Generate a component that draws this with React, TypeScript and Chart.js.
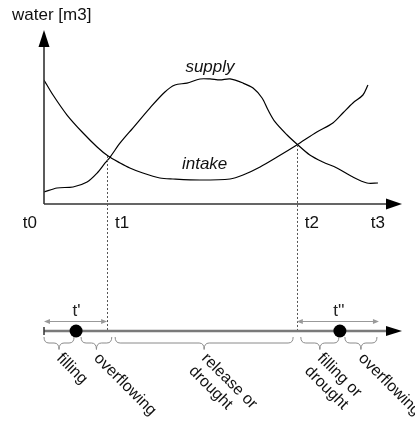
import { useEffect, useRef } from 'react';
import { Chart, registerables } from 'chart.js';

Chart.register(...registerables);

// time axis (arbitrary units, t0 = 0, t3 = 10)
const timeTickLabels = ['t0', 't1', 't2', 't3'];
const timeTickValues = [0, 1.89, 7.57, 10];

// supply curve
const supplyX = [0, 0.39, 0.87, 1.29, 1.59, 1.83, 1.98, 2.28, 2.66, 3.17, 3.62, 3.92, 4.28, 4.67, 4.97, 5.27, 5.57, 5.96, 6.26, 6.53, 6.71, 6.92, 7.28, 7.57, 7.96, 8.35, 8.77, 9.25, 9.67, 10.0];
const supplyY = [0.97, 1.29, 1.37, 1.77, 2.49, 3.3, 3.78, 4.91, 6.11, 7.72, 9.01, 9.57, 9.73, 10.06, 10.06, 9.98, 10.06, 9.73, 9.33, 8.53, 7.56, 6.6, 5.55, 4.83, 3.94, 3.38, 2.9, 2.17, 1.69, 1.69];

// intake curve
const intakeX = [0, 0.27, 0.69, 1.17, 1.59, 1.92, 2.28, 2.57, 2.96, 3.47, 3.86, 4.67, 5.57, 5.96, 6.47, 6.98, 7.57, 8.17, 8.65, 8.95, 9.25, 9.55, 9.7];
const intakeY = [9.98, 8.77, 7.16, 5.71, 4.59, 3.86, 3.3, 2.9, 2.49, 2.09, 2.01, 1.93, 2.01, 2.33, 2.98, 3.78, 4.75, 5.79, 6.52, 7.32, 8.13, 8.77, 9.57];

// crossings of supply and intake
const crossTimes = [1.89, 7.57];
const crossLevels = [3.86, 4.75];

// timeline markers
const markerTimes = [0.96, 8.86];
const periodLabels = ["t'", "t''"];
const periodStart = [0, 7.57];
const periodEnd = [1.89, 10.03];

// phases under the timeline
const phaseLabels = [['filling'], ['overflowing'], ['release or', 'drought'], ['filling or', 'drought'], ['overflowing']];
const phaseStart = [0, 1.11, 2.13, 7.69, 9.01];
const phaseEnd = [0.9, 2.03, 7.46, 8.83, 9.97];

const X_MAX = 10.72;
const Y_MAX = 14;
const FONT = '"Liberation Sans", Arial, sans-serif';

function arrowHead(ctx: CanvasRenderingContext2D, tipX: number, tipY: number, dir: 'right' | 'up' | 'left', len: number, half: number) {
  ctx.beginPath();
  if (dir === 'right') {
    ctx.moveTo(tipX, tipY);
    ctx.lineTo(tipX - len, tipY - half);
    ctx.lineTo(tipX - len, tipY + half);
  } else if (dir === 'left') {
    ctx.moveTo(tipX, tipY);
    ctx.lineTo(tipX + len, tipY - half);
    ctx.lineTo(tipX + len, tipY + half);
  } else {
    ctx.moveTo(tipX, tipY);
    ctx.lineTo(tipX - half, tipY + len);
    ctx.lineTo(tipX + half, tipY + len);
  }
  ctx.closePath();
  ctx.fill();
}

const diagramPlugin = {
  id: 'diagram',
  afterDatasetsDraw(chart: any) {
    const ctx: CanvasRenderingContext2D = chart.ctx;
    const xs = chart.scales.x;
    const ys = chart.scales.y;
    const area = chart.chartArea;
    const px = (v: number) => xs.getPixelForValue(v);
    const py = (v: number) => ys.getPixelForValue(v);
    const x0 = px(0);
    const y0 = py(0);
    ctx.save();

    // main axes
    ctx.strokeStyle = '#333';
    ctx.fillStyle = '#000';
    ctx.lineWidth = 1.6;
    ctx.beginPath();
    ctx.moveTo(x0, y0);
    ctx.lineTo(x0, area.top + 14);
    ctx.moveTo(x0, y0);
    ctx.lineTo(area.right - 14, y0);
    ctx.stroke();
    arrowHead(ctx, x0, area.top, 'up', 17, 5.5);
    arrowHead(ctx, area.right, y0, 'right', 16, 5.5);

    // axis title
    ctx.fillStyle = '#111';
    ctx.font = `17px ${FONT}`;
    ctx.textAlign = 'left';
    ctx.textBaseline = 'middle';
    ctx.fillText('water [m3]', 12, 15);

    // time tick labels
    timeTickLabels.forEach((lab, i) => {
      const x = px(timeTickValues[i]);
      if (i === 0) { ctx.textAlign = 'right'; ctx.fillText(lab, x - 7, 223); }
      else if (i === timeTickLabels.length - 1) { ctx.textAlign = 'center'; ctx.fillText(lab, x, 223); }
      else { ctx.textAlign = 'left'; ctx.fillText(lab, x + 8, 223); }
    });

    // series labels
    ctx.font = `italic 17px ${FONT}`;
    ctx.textAlign = 'center';
    ctx.fillText('supply', px(4.97), 67);
    ctx.fillText('intake', px(4.81), 164);

    const lineY = 331;

    // dotted crossing lines
    ctx.strokeStyle = '#555';
    ctx.lineWidth = 1;
    ctx.setLineDash([2, 2]);
    crossTimes.forEach((t, i) => {
      const x = Math.round(px(t)) + 0.5;
      ctx.beginPath();
      ctx.moveTo(x, py(crossLevels[i]));
      ctx.lineTo(x, lineY);
      ctx.stroke();
    });
    ctx.setLineDash([]);

    // timeline
    ctx.strokeStyle = '#7a7a7a';
    ctx.lineWidth = 2.5;
    ctx.beginPath();
    ctx.moveTo(x0, lineY);
    ctx.lineTo(area.right - 14, lineY);
    ctx.stroke();
    ctx.strokeStyle = '#333';
    ctx.lineWidth = 1.5;
    ctx.beginPath();
    ctx.moveTo(x0, lineY - 4);
    ctx.lineTo(x0, lineY + 4);
    ctx.stroke();
    ctx.fillStyle = '#000';
    arrowHead(ctx, area.right, lineY, 'right', 16, 5);

    // markers
    markerTimes.forEach((t) => {
      ctx.beginPath();
      ctx.arc(px(t), lineY, 6.5, 0, Math.PI * 2);
      ctx.fill();
    });

    // period arrows
    ctx.strokeStyle = '#999';
    ctx.fillStyle = '#999';
    ctx.lineWidth = 1;
    periodLabels.forEach((lab, i) => {
      const a = px(periodStart[i]);
      const b = px(periodEnd[i]);
      const y = 321.5;
      ctx.beginPath();
      ctx.moveTo(a + 3, y);
      ctx.lineTo(b - 3, y);
      ctx.stroke();
      arrowHead(ctx, a, y, 'left', 6, 2.5);
      arrowHead(ctx, b, y, 'right', 6, 2.5);
      ctx.fillStyle = '#222';
      ctx.font = `17px ${FONT}`;
      ctx.textAlign = 'center';
      ctx.textBaseline = 'middle';
      ctx.fillText(lab, (a + b) / 2 + 1, 311);
      ctx.fillStyle = '#999';
    });

    // braces and phase labels
    const top = 337;
    const mid = 343;
    const tip = 349.5;
    phaseLabels.forEach((lines, i) => {
      const a = px(phaseStart[i]);
      const b = px(phaseEnd[i]);
      const m = (a + b) / 2;
      const r = Math.min(5, (b - a) / 4);
      ctx.strokeStyle = '#8a8a8a';
      ctx.lineWidth = 1;
      ctx.beginPath();
      ctx.moveTo(a, top);
      ctx.quadraticCurveTo(a, mid, a + r, mid);
      ctx.lineTo(m - r, mid);
      ctx.quadraticCurveTo(m, mid, m, tip);
      ctx.quadraticCurveTo(m, mid, m + r, mid);
      ctx.lineTo(b - r, mid);
      ctx.quadraticCurveTo(b, mid, b, top);
      ctx.stroke();

      ctx.save();
      ctx.translate(m, 356);
      ctx.rotate(Math.PI / 4);
      ctx.fillStyle = '#111';
      ctx.font = `16px ${FONT}`;
      ctx.textAlign = 'left';
      ctx.textBaseline = 'middle';
      lines.forEach((ln, j) => ctx.fillText(ln, 0, j * 18));
      ctx.restore();
    });

    ctx.restore();
  },
};

export default function App() {
  const ref = useRef<HTMLCanvasElement | null>(null);
  useEffect(() => {
    if (!ref.current) return;
    const chart = new Chart(ref.current, {
      type: 'line',
      data: {
        datasets: [
          {
            label: 'supply',
            data: supplyX.map((x, i) => ({ x, y: supplyY[i] })),
            borderColor: '#000',
            borderWidth: 1.2,
            pointRadius: 0,
            tension: 0.3,
            fill: false,
          },
          {
            label: 'intake',
            data: intakeX.map((x, i) => ({ x, y: intakeY[i] })),
            borderColor: '#000',
            borderWidth: 1.2,
            pointRadius: 0,
            tension: 0.3,
            fill: false,
          },
        ],
      },
      options: {
        animation: false,
        responsive: false,
        devicePixelRatio: 1,
        layout: { padding: { left: 44, right: 13, top: 30, bottom: 226 } },
        plugins: { legend: { display: false }, tooltip: { enabled: false } },
        events: [],
        scales: {
          x: { type: 'linear', min: 0, max: X_MAX, display: false },
          y: { type: 'linear', min: 0, max: Y_MAX, display: false },
        },
      },
      plugins: [diagramPlugin],
    });
    return () => chart.destroy();
  }, []);
  return (
    <div style={{ position: 'absolute', left: 0, top: 0, width: 415, height: 430, background: '#fff' }}>
      <canvas ref={ref} width={415} height={430} style={{ display: 'block' }} />
    </div>
  );
}
